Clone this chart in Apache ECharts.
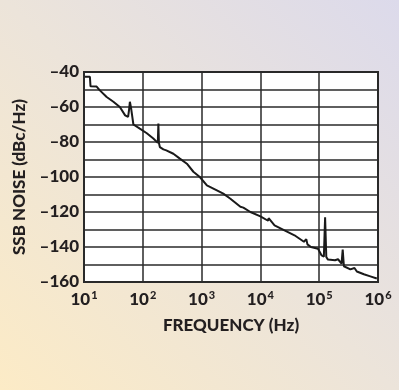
<!DOCTYPE html>
<html><head><meta charset="utf-8">
<script src="https://cdn.jsdelivr.net/npm/echarts@6/dist/echarts.min.js"></script>
<style>
html,body{margin:0;padding:0;}
body{width:399px;height:390px;background:linear-gradient(45deg,#fcebc6 0%,#ece4da 50%,#dcdaeb 100%);}
#c{width:399px;height:390px;}
</style></head><body><div id="c"></div>
<script>
const freqs = [10.4,12.6,12.9,16.4,18.6,24.3,31.6,40.7,50.1,56.2,58.2,60.3,63.1,67.6,69.2,89,117,151,180,184,188,195,224,251,331,427,562,724,933,1230,1820,2340,3090,4570,5130,6760,10000,13500,13800,17400,25700,38000,55000,60300,63100,72400,95500,110000,120000,126000,132000,141000,186000,209000,240000,251000,263000,339000,398000,437000,575000,741000,955000];
const noise = [-42.7,-42.7,-48.2,-48.3,-50.5,-54.3,-57,-60,-64.8,-65.7,-62,-57,-60.5,-61,-70,-72.4,-75,-78,-80.5,-69.5,-80.5,-82.9,-84.2,-84.8,-86.7,-89.5,-92.4,-97,-100,-104.8,-107.6,-109.5,-112.4,-117,-117.5,-120,-122.5,-125,-123.5,-127.6,-130.5,-133.3,-137,-135.5,-138.5,-140,-141,-144.8,-145.5,-123,-145.7,-147.2,-147.6,-147,-149.5,-141.5,-151,-152.8,-152,-154,-155.6,-156.8,-158];
const yTicks = [-40,-60,-80,-100,-120,-140,-160];
const xLabel = 'FREQUENCY (Hz)';
const yLabel = 'SSB NOISE (dBc/Hz)';
const chart = echarts.init(document.getElementById('c'));
const font = 'Lato, "Open Sans", sans-serif';
const W = 900;
chart.setOption({
  animation:false,
  grid:{left:84,right:21,top:72,bottom:108,show:true,backgroundColor:'#fff',borderColor:'#2a2a2a',borderWidth:2},
  xAxis:{type:'log',logBase:10,min:10,max:1000000,
    name:xLabel,nameLocation:'middle',nameGap:35,
    nameTextStyle:{fontFamily:font,fontWeight:W,fontSize:17,color:'#231f20'},
    axisLine:{lineStyle:{color:'#2a2a2a',width:2}},
    axisTick:{show:false},
    splitLine:{show:true,lineStyle:{color:'#2a2a2a',width:1.5}},
    minorTick:{show:false},
    axisLabel:{margin:8,fontFamily:font,fontWeight:W,fontSize:17,color:'#231f20',
      formatter:function(v){const e=Math.round(Math.log10(v));return '{b|10}{s|'+e+'}';},
      rich:{b:{fontFamily:font,fontWeight:W,fontSize:17,color:'#231f20'},
            s:{fontFamily:font,fontWeight:W,fontSize:11,color:'#231f20',verticalAlign:'top',padding:[0,0,8,1]}}}
  },
  yAxis:{type:'value',min:-160,max:-40,interval:10,
    name:yLabel,nameLocation:'middle',nameGap:56,
    nameTextStyle:{fontFamily:font,fontWeight:W,fontSize:17,color:'#231f20'},
    axisLine:{show:true,lineStyle:{color:'#2a2a2a',width:2}},
    axisTick:{show:false},
    splitLine:{show:true,lineStyle:{color:'#2a2a2a',width:1.5}},
    axisLabel:{margin:5,fontFamily:font,fontWeight:W,fontSize:17,color:'#231f20',
      formatter:function(v){return yTicks.indexOf(v)>=0?('–'+Math.abs(v)):'';}}
  },
  series:[{type:'line',data:freqs.map((f,i)=>[f,noise[i]]),showSymbol:false,
    lineStyle:{color:'#1a1a1a',width:2},z:5}]
});
</script></body></html>
